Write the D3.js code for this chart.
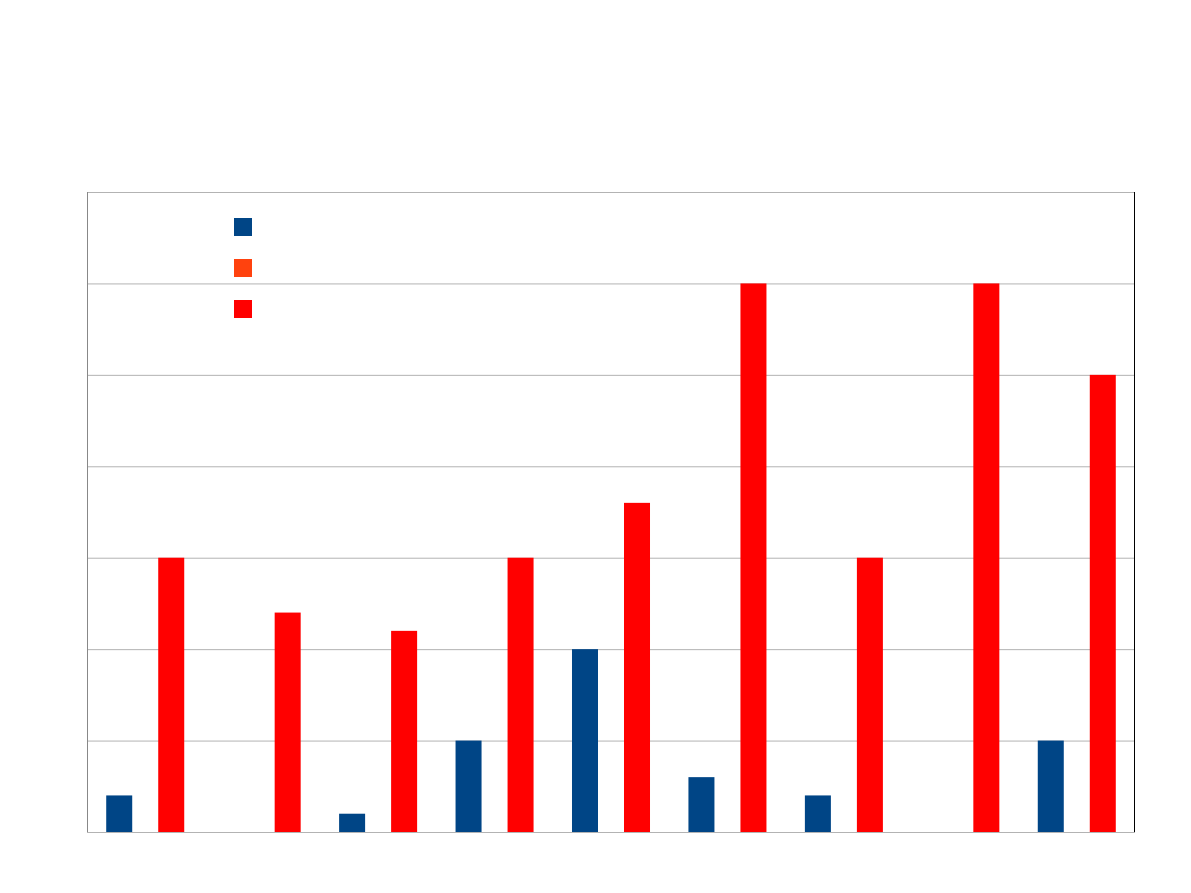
<!DOCTYPE html>
<html>
<head>
<style>
  body { margin: 0; background: #fff; }
</style>
</head>
<body>
<script src="https://d3js.org/d3.v7.min.js"></script>
<script>

  // chart values (no labels are shown in it)
  var categories = ["1", "2", "3", "4", "5", "6", "7", "8", "9"];
  var seriesNames = ["A", "B", "C"];
  var seriesColors = ["#004586", "#ff420e", "#ff0000"];
  var seriesA = [2, 0, 1, 5, 10, 3, 2, 0, 5];
  var seriesB = [0, 0, 0, 0, 0, 0, 0, 0, 0];
  var seriesC = [15, 12, 11, 15, 18, 30, 15, 30, 25];
  var yTicks = [0, 5, 10, 15, 20, 25, 30, 35];

  var width = 1191;
  var height = 893;
  var margin = {top: 192, right: 56, bottom: 61, left: 87};

  var svg = d3.select("body")
      .append("svg")
      .attr("width", width)
      .attr("height", height);

  var plotW = width - margin.left - margin.right;
  var plotH = height - margin.top - margin.bottom;

  var g = svg.append("g")
      .attr("transform", "translate(" + margin.left + "," + margin.top + ")");

  var x0 = d3.scaleBand()
      .domain(categories)
      .range([0, plotW])
      .paddingInner(0.33)
      .paddingOuter(0.165);

  var x1 = d3.scaleBand()
      .domain(seriesNames)
      .range([0, x0.bandwidth()]);

  var y = d3.scaleLinear()
      .domain([0, 35])
      .range([plotH, 0]);

  // grid lines
  g.append("g")
      .call(d3.axisLeft(y).tickValues(yTicks).tickSize(-plotW).tickFormat(""))
      .call(function (a) {
        a.select(".domain").remove();
        a.selectAll(".tick line").attr("stroke", "#b3b3b3");
      });

  var table = categories.map(function (c, i) {
    return {cat: c, values: [seriesA[i], seriesB[i], seriesC[i]]};
  });

  var groups = g.selectAll(".group")
      .data(table)
      .enter()
        .append("g")
        .attr("class", "group")
        .attr("transform", function (d) { return "translate(" + x0(d.cat) + ",0)"; });

  groups.selectAll("rect")
      .data(function (d) {
        return d.values.map(function (v, j) { return {name: seriesNames[j], value: v, color: seriesColors[j]}; });
      })
      .enter()
        .append("rect")
        .attr("x", function (d) { return x1(d.name); })
        .attr("y", function (d) { return y(d.value); })
        .attr("width", x1.bandwidth())
        .attr("height", function (d) { return plotH - y(d.value); })
        .attr("fill", function (d) { return d.color; });

  // frame
  g.append("line").attr("x1", 0).attr("x2", plotW).attr("y1", 0.5).attr("y2", 0.5)
      .attr("stroke", "#b3b3b3");
  g.append("line").attr("x1", 0.5).attr("x2", 0.5).attr("y1", 0).attr("y2", plotH)
      .attr("stroke", "#888888");
  g.append("line").attr("x1", plotW - 0.5).attr("x2", plotW - 0.5).attr("y1", 0).attr("y2", plotH)
      .attr("stroke", "#000000");
  g.append("line").attr("x1", 0).attr("x2", plotW).attr("y1", plotH + 0.5).attr("y2", plotH + 0.5)
      .attr("stroke", "#b3b3b3");

  // legend (swatches only)
  var legend = svg.append("g")
      .attr("transform", "translate(234,218)");

  legend.selectAll("rect")
      .data(seriesNames)
      .enter()
        .append("rect")
        .attr("x", 0)
        .attr("y", function (d, i) { return i * 41; })
        .attr("width", 18)
        .attr("height", 18)
        .attr("fill", function (d, i) { return seriesColors[i]; });

</script>
</body>
</html>
